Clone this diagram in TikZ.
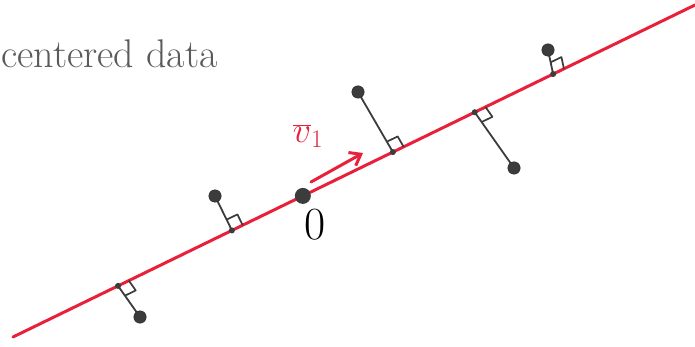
\RequirePackage{fix-cm}
\documentclass[tikz,border=0pt]{standalone}
\usetikzlibrary{calc,arrows.meta}
\definecolor{redline}{HTML}{E8203A}
\definecolor{dotgray}{HTML}{3C3C3C}
\definecolor{textgray}{HTML}{5A5A5A}
\tikzset{
  datapt/.style={circle,fill=dotgray,draw=dotgray!70!black,inner sep=0pt,minimum size=12.5pt},
  origindot/.style={circle,fill=dotgray,inner sep=0pt,minimum size=16pt},
  footdot/.style={circle,fill=dotgray,inner sep=0pt,minimum size=6pt},
  perpline/.style={draw=dotgray,line width=1.8pt,line cap=round},
  ramark/.style={draw=dotgray,line width=1.7pt,line join=round},
  redaxis/.style={draw=redline,line width=3pt,line cap=round},
}
\begin{document}
\begin{tikzpicture}[x=1pt,y=-1pt]
\useasboundingbox (0,0) rectangle (695,347);
% title
\node[anchor=base west,inner sep=0pt,text=textgray,font=\fontsize{40}{40}\selectfont] (title) at (1,68) {centered data};
% principal direction line
\coordinate (A) at (13,337);
\coordinate (B) at (695,5);
\draw[redaxis] (A) -- (B);
% feet on the line
\coordinate (f1) at ($(A)!0.154!(B)$);
\coordinate (f2) at ($(A)!0.321!(B)$);
\coordinate (f4) at ($(A)!0.557!(B)$);
\coordinate (f5) at ($(A)!0.677!(B)$);
\coordinate (f6) at ($(A)!0.792!(B)$);
% data points
\coordinate (p1) at (140,317);
\coordinate (p2) at (215,196);
\coordinate (p4) at (358,92);
\coordinate (p5) at (514,168);
\coordinate (p6) at (548,50);
\foreach \i in {1,2,4,5,6} {
  \draw[perpline] (p\i) -- (f\i);
  \coordinate (ma\i) at ($(f\i)!12pt!(p\i)$);
  \coordinate (mb\i) at ($(f\i)!12pt!(B)$);
  \draw[ramark] (ma\i) -- ($(ma\i)+(mb\i)-(f\i)$) -- (mb\i);
}
\foreach \i in {1,2,4,5,6} {
  \node[footdot] (fd\i) at (f\i) {};
  \node[datapt] (n\i) at (p\i) {};
}
% origin
\node[origindot] (o) at ($(A)!0.425!(B)$) {};
\node[font=\fontsize{46}{46}\selectfont,inner sep=0pt] (zero) at (315,225) {0};
% v1 arrow and label
\coordinate (v0) at (311,182);
\coordinate (v1) at (363,153);
\draw[draw=redline,line width=3pt,line cap=round,-{Straight Barb[length=10pt,width=15pt]}] (v0) -- (v1);
\node[text=redline,font=\fontsize{36}{36}\selectfont,inner sep=0pt] (lbl) at (308,136) {$\overline{v}_1$};
\end{tikzpicture}
\end{document}
